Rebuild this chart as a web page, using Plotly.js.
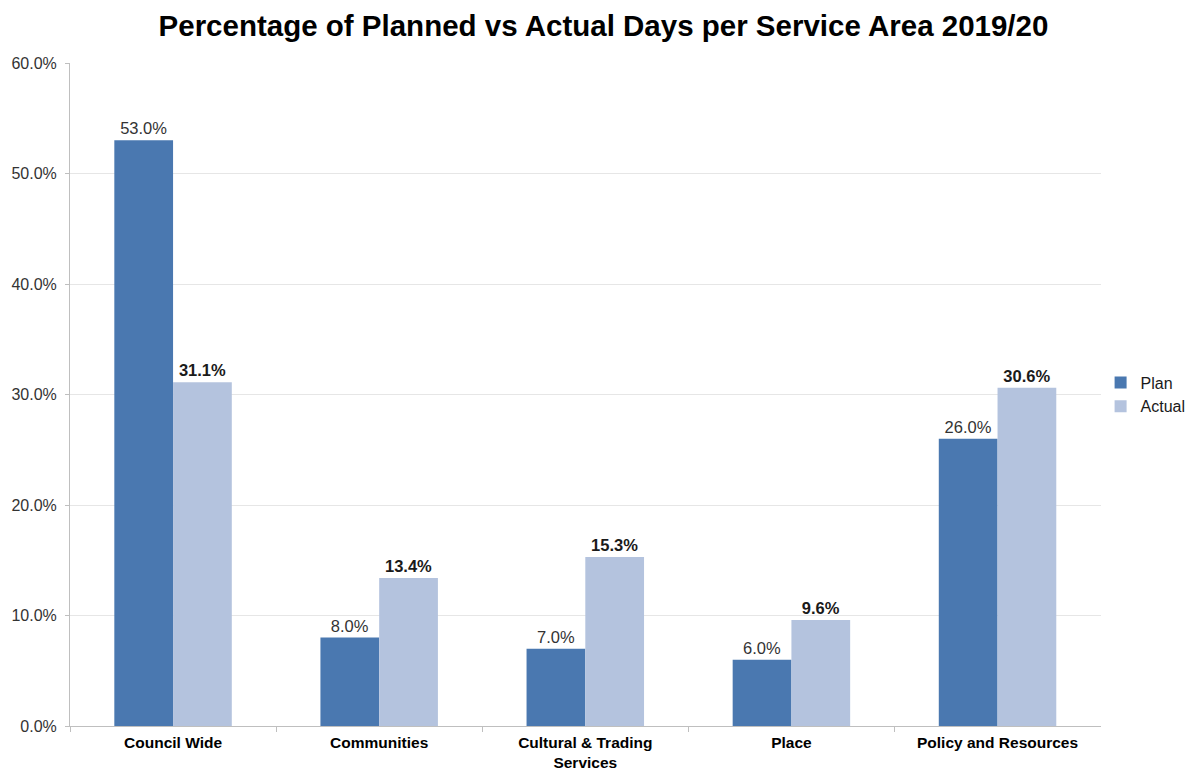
<!DOCTYPE html>
<html>
<head>
<meta charset="utf-8">
<script src="https://cdn.plot.ly/plotly-3.0.1.min.js"></script>
<style>html,body{margin:0;padding:0;background:#fff;}#chart{width:1195px;height:772px;}</style>
</head>
<body>
<div id="chart"></div>
<script>
const categories = ["Council Wide", "Communities", "Cultural & Trading<br>Services", "Place", "Policy and Resources"];
const planValues = [53.0, 8.0, 7.0, 6.0, 26.0];
const actualValues = [31.1, 13.4, 15.3, 9.6, 30.6];
const seriesNames = ["Plan", "Actual"];

const font = "Liberation Sans, Arial, sans-serif";

const traces = [
  {
    type: "bar", name: seriesNames[0], x: categories, y: planValues,
    marker: {color: "#4A78B0"},
    texttemplate: "%{y:.1f}%", textposition: "outside",
    textfont: {family: font, size: 16.5, color: "#333333"},
    cliponaxis: false, hoverinfo: "x+y"
  },
  {
    type: "bar", name: seriesNames[1], x: categories, y: actualValues,
    marker: {color: "#B4C3DE"},
    texttemplate: "%{y:.1f}%", textposition: "outside",
    textfont: {family: font, size: 16.5, color: "#1a1a1a", weight: "bold"},
    cliponaxis: false, hoverinfo: "x+y"
  }
];

const layout = {
  width: 1195, height: 772,
  margin: {l: 70, r: 86, t: 63, b: 46},
  paper_bgcolor: "#ffffff", plot_bgcolor: "#ffffff",
  font: {family: font, size: 16, color: "#333333"},
  title: {text: "<b>Percentage of Planned vs Actual Days per Service Area 2019/20</b>",
          font: {family: font, size: 29.5, color: "#000000"},
          x: 0.505, xanchor: "center", y: 0.967, yanchor: "middle"},
  barmode: "group", bargap: 0.43, bargroupgap: 0,
  xaxis: {
    type: "category",
    showline: true, linecolor: "#bfbfbf", linewidth: 1,
    ticks: "outside", tickson: "boundaries", ticklen: 5, tickcolor: "#bfbfbf",
    tickfont: {family: font, size: 15.5, color: "#000000", weight: "bold"},
    ticklabelstandoff: 2,
    showgrid: false, automargin: false
  },
  yaxis: {
    range: [0, 60], dtick: 10, tickformat: ".1f", ticksuffix: "%",
    showline: true, linecolor: "#bfbfbf", linewidth: 1,
    ticks: "outside", ticklen: 4, tickcolor: "#bfbfbf",
    gridcolor: "#e6e6e6", gridwidth: 1,
    zeroline: false, automargin: false,
    ticklabelstandoff: 5,
    tickfont: {family: font, size: 16, color: "#333333"}
  },
  legend: {
    xref: "container", x: 0.921, xanchor: "left", y: 0.5, yanchor: "middle",
    font: {family: font, size: 16, color: "#1a1a1a"},
    itemwidth: 30, tracegroupgap: 4
  },
  showlegend: true
};

Plotly.newPlot("chart", traces, layout, {displayModeBar: false, staticPlot: true});
</script>
</body>
</html>
